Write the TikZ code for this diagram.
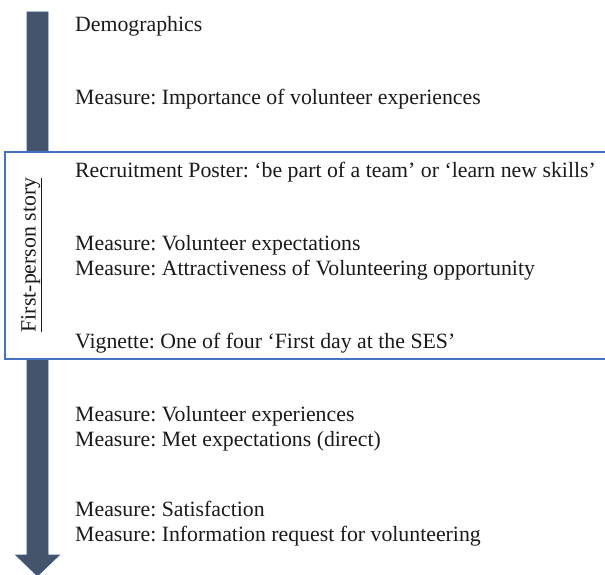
\documentclass[tikz,border=0pt]{standalone}
\usepackage{fontspec}
\setmainfont{Liberation Serif}
\frenchspacing
\definecolor{shaftfill}{HTML}{44546A}
\definecolor{shaftedge}{HTML}{3A5D96}
\definecolor{framecol}{HTML}{4472C4}
\definecolor{inkcol}{HTML}{1A1A1A}
\tikzset{
  item/.style={anchor=base west, inner sep=0pt, text=inkcol,
    font=\fontsize{21.8}{25}\selectfont},
  sidelabel/.style={rotate=90, anchor=base, inner sep=0pt, text=inkcol,
    font=\fontsize{21.8}{25}\selectfont},
  storyframe/.style={draw=framecol, line width=1.6pt, fill=white},
  timeline/.style={fill=shaftfill, draw=shaftedge, line width=0.6pt}
}
\begin{document}
\begin{tikzpicture}[x=1pt, y=-1pt]
  \useasboundingbox (0,0) rectangle (605,575);
  % downward block arrow along the left side
  \path[timeline] (27,12) -- (48,12) -- (48,555) -- (59.5,555) -- (37.5,576)
    -- (15.5,555) -- (27,555) -- cycle;
  % framed section for the first-person story
  \path[storyframe] (5,152) rectangle (612,359);
  \node[sidelabel] (story) at (35.5,255) {\underline{First-person story}};
  % survey steps
  \node[item] (demo) at (75,32) {Demographics};
  \node[item] (imp) at (75,105) {Measure: Importance of volunteer experiences};
  \node[item] (poster) at (75,178) {Recruitment Poster: ‘be part of a team’ or ‘learn new skills’};
  \node[item] (expect) at (75,250) {Measure: Volunteer expectations};
  \node[item] (attract) at (75,275) {Measure: Attractiveness of Volunteering opportunity};
  \node[item] (vign) at (75,348) {Vignette: One of four ‘First day at the SES’};
  \node[item] (exper) at (75,421) {Measure: Volunteer experiences};
  \node[item] (met) at (75,446) {Measure: Met expectations (direct)};
  \node[item] (satis) at (75,516) {Measure: Satisfaction};
  \node[item] (info) at (75,541) {Measure: Information request for volunteering};
\end{tikzpicture}
\end{document}
